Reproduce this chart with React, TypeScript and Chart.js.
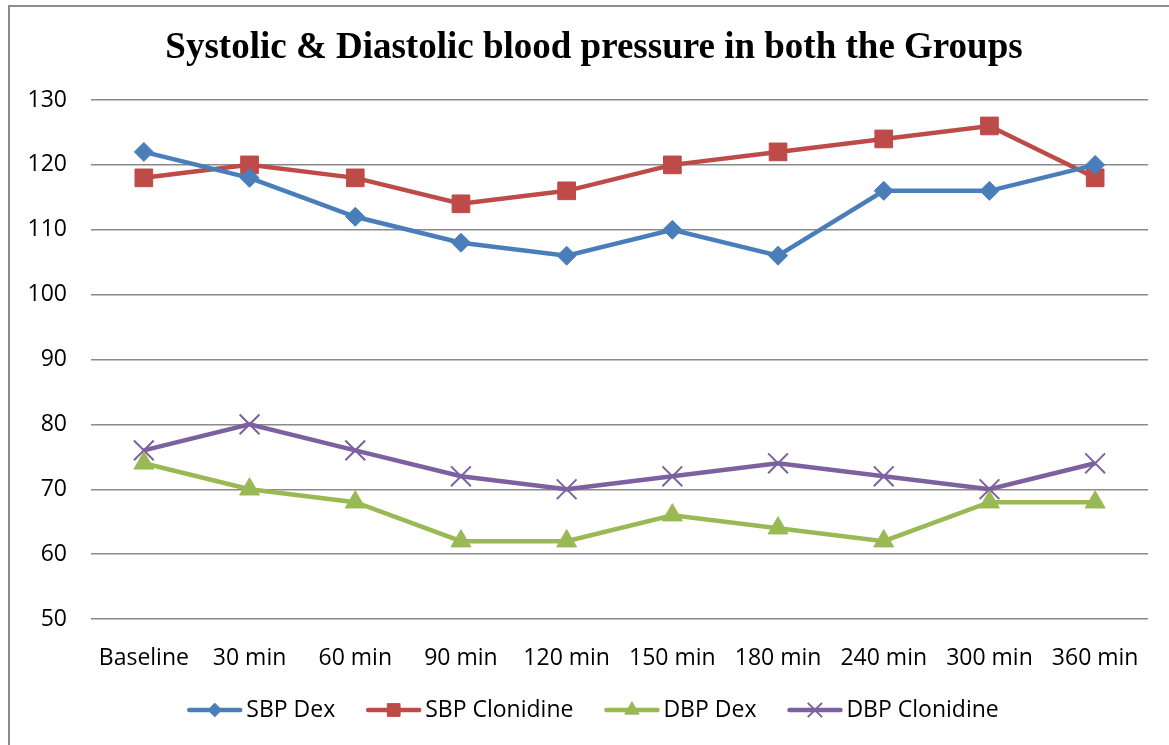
import React, { useEffect, useRef } from "react";
import { Chart, registerables } from "chart.js";

Chart.register(...registerables);

const categories = ["Baseline", "30 min", "60 min", "90 min", "120 min", "150 min", "180 min", "240 min", "300 min", "360 min"];
const sbpDex = [122, 118, 112, 108, 106, 110, 106, 116, 116, 120];
const sbpClonidine = [118, 120, 118, 114, 116, 120, 122, 124, 126, 118];
const dbpDex = [74, 70, 68, 62, 62, 66, 64, 62, 68, 68];
const dbpClonidine = [76, 80, 76, 72, 70, 72, 74, 72, 70, 74];
const seriesNames = ["SBP Dex", "SBP Clonidine", "DBP Dex", "DBP Clonidine"];
const titleText = "Systolic & Diastolic blood pressure in both the Groups";
const yMin = 50;
const yMax = 130;
const yStep = 10;

const W = 1169;
const H = 745;
const AXIS_FONT = "'Open Sans', 'Liberation Sans', sans-serif";
const FONT_SIZE = 23;

function drawMarker(ctx: CanvasRenderingContext2D, style: string, r: number, x: number, y: number) {
  ctx.beginPath();
  if (style === "rectRot") {
    ctx.moveTo(x, y - r);
    ctx.lineTo(x + r, y);
    ctx.lineTo(x, y + r);
    ctx.lineTo(x - r, y);
    ctx.closePath();
    ctx.fill();
    ctx.stroke();
  } else if (style === "rect") {
    const s = Math.SQRT1_2 * r;
    ctx.rect(x - s, y - s, 2 * s, 2 * s);
    ctx.fill();
    ctx.stroke();
  } else if (style === "triangle") {
    ctx.moveTo(x, y - r);
    ctx.lineTo(x + r * 0.866, y + r * 0.5);
    ctx.lineTo(x - r * 0.866, y + r * 0.5);
    ctx.closePath();
    ctx.fill();
    ctx.stroke();
  } else if (style === "crossRot") {
    const s = Math.SQRT1_2 * r;
    ctx.moveTo(x - s, y - s);
    ctx.lineTo(x + s, y + s);
    ctx.moveTo(x - s, y + s);
    ctx.lineTo(x + s, y - s);
    ctx.stroke();
  }
}

const customPlugin = {
  id: "customDecor",
  afterDraw(chart: any) {
    const ctx = chart.ctx;
    ctx.save();
    // title
    ctx.font = "bold 37px 'Liberation Serif', 'Times New Roman', serif";
    ctx.fillStyle = "#000";
    ctx.textAlign = "center";
    ctx.textBaseline = "middle";
    ctx.fillText(titleText, 594, 48);

    // legend
    ctx.font = `${FONT_SIZE}px ${AXIS_FONT}`;
    const lineLen = 55;
    const gapText = 4;
    const gapItem = 31;
    const items = chart.data.datasets.map((ds: any) => ({
      ds,
      w: ctx.measureText(ds.label).width,
    }));
    const total = items.reduce((s: number, it: any) => s + lineLen + gapText + it.w, 0) + gapItem * (items.length - 1);
    let x = 593 - total / 2;
    const y = 710;
    items.forEach((it: any) => {
      const ds = it.ds;
      ctx.strokeStyle = ds.borderColor;
      ctx.lineWidth = 4.5;
      ctx.lineCap = "round";
      ctx.beginPath();
      ctx.moveTo(x + 2, y);
      ctx.lineTo(x + lineLen - 2, y);
      ctx.stroke();
      const r = ds.pointRadius * 0.72;
      ctx.fillStyle = ds.pointBackgroundColor;
      ctx.strokeStyle = ds.pointBorderColor;
      ctx.lineWidth = ds.pointBorderWidth;
      ctx.lineCap = "butt";
      drawMarker(ctx, ds.pointStyle, r, x + lineLen / 2, y);
      ctx.fillStyle = "#000";
      ctx.textAlign = "left";
      ctx.textBaseline = "middle";
      ctx.fillText(ds.label, x + lineLen + gapText, y);
      x += lineLen + gapText + it.w + gapItem;
    });
    ctx.restore();
  },
};

export default function App() {
  const ref = useRef<HTMLCanvasElement | null>(null);
  useEffect(() => {
    if (!ref.current) return;
    const mk = (label: string, data: number[], color: string, style: string, radius: number, bw: number) => ({
      label,
      data,
      borderColor: color,
      backgroundColor: color,
      borderWidth: 4.5,
      pointStyle: style,
      pointRadius: radius,
      pointBackgroundColor: color,
      pointBorderColor: color,
      pointBorderWidth: bw,
      pointHoverRadius: radius,
      tension: 0,
    });
    const chart = new Chart(ref.current, {
      type: "line",
      data: {
        labels: categories,
        datasets: [
          mk(seriesNames[0], sbpDex, "#4A7EBB", "rectRot", 9.5, 1),
          mk(seriesNames[1], sbpClonidine, "#BE4B48", "rect", 12.5, 1),
          mk(seriesNames[2], dbpDex, "#98B954", "triangle", 11.5, 1),
          mk(seriesNames[3], dbpClonidine, "#7D60A0", "crossRot", 14, 2),
        ],
      },
      options: {
        animation: false,
        responsive: false,
        maintainAspectRatio: false,
        layout: { padding: { left: 0, right: W - 1148, top: 100, bottom: 0 } },
        plugins: {
          legend: { display: false },
          title: { display: false },
          tooltip: { enabled: false },
        },
        scales: {
          x: {
            offset: true,
            grid: { display: false },
            border: { display: false },
            ticks: {
              color: "#000",
              font: { family: AXIS_FONT, size: FONT_SIZE },
              padding: 18,
              maxRotation: 0,
              autoSkip: false,
            },
            afterFit(scale: any) {
              scale.height = H - 619;
            },
          },
          y: {
            min: yMin,
            max: yMax,
            grid: { color: "#8a8a8a", lineWidth: 1.5, drawTicks: false },
            border: { display: false },
            ticks: {
              stepSize: yStep,
              color: "#000",
              font: { family: AXIS_FONT, size: FONT_SIZE },
              padding: 24,
            },
            afterFit(scale: any) {
              scale.width = 91;
            },
          },
        },
      },
      plugins: [customPlugin],
    } as any);
    return () => chart.destroy();
  }, []);
  return (
    <div style={{ position: "absolute", left: 0, top: 0, width: W, height: H, background: "#fff" }}>
      <div
        style={{
          position: "absolute",
          left: 8,
          top: 5,
          width: W,
          height: H,
          border: "2px solid #8c8c8c",
          boxSizing: "border-box",
        }}
      />
      <canvas ref={ref} width={W} height={H} style={{ position: "absolute", left: 0, top: 0, width: W, height: H }} />
    </div>
  );
}
